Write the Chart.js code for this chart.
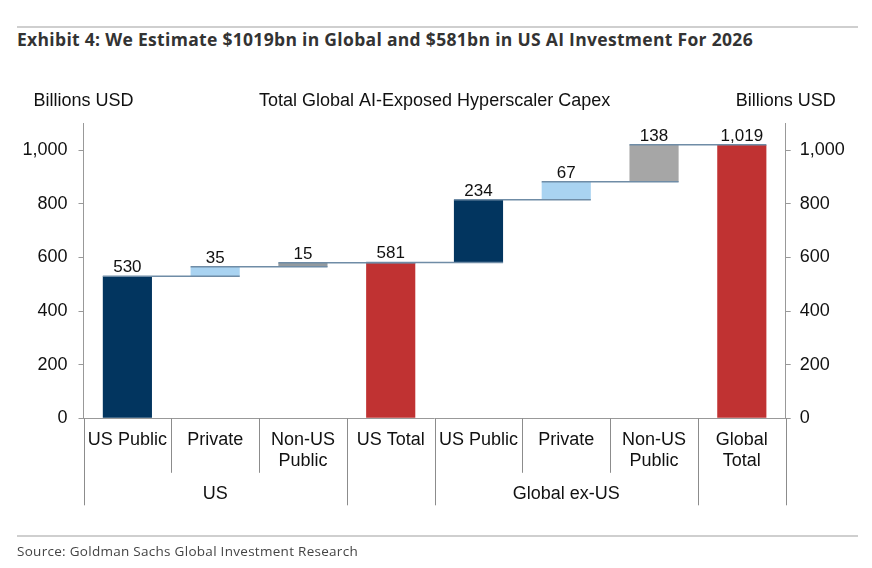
<!DOCTYPE html>
<html>
<head>
<meta charset="utf-8">
<script src="https://cdn.jsdelivr.net/npm/chart.js@4.4.1/dist/chart.umd.min.js"></script>
<style>
  html, body { margin: 0; padding: 0; background: #fff; }
  #wrap { position: relative; width: 872px; height: 568px; overflow: hidden; }
  #chart { position: absolute; left: 0; top: 0; }
  .rule { position: absolute; left: 17px; width: 841px; height: 2px; background: #cfcfcf; }
  #title { position: absolute; left: 17px; top: 28px; font: 700 17.5px "Open Sans", sans-serif; color: #333; line-height: 22px; white-space: nowrap; }
  #source { position: absolute; left: 17px; top: 542px; font: 13.5px "Open Sans", sans-serif; color: #444; line-height: 18px; white-space: nowrap; }
</style>
</head>
<body>
<div id="wrap">
  <div class="rule" style="top:26px"></div>
  <div id="title">Exhibit 4: We Estimate $1019bn in Global and $581bn in US AI Investment For 2026</div>
  <canvas id="chart" width="872" height="568"></canvas>
  <div class="rule" style="top:535px"></div>
  <div id="source">Source: Goldman Sachs Global Investment Research</div>
</div>
<script>
// chart data
const categories = [['US Public'], ['Private'], ['Non-US', 'Public'], ['US Total'],
                    ['US Public'], ['Private'], ['Non-US', 'Public'], ['Global', 'Total']];
const groups = ['US', 'US', 'US', '', 'Global ex-US', 'Global ex-US', 'Global ex-US', ''];
const values = [530, 35, 15, 581, 234, 67, 138, 1019];
const isTotal = [false, false, false, true, false, false, false, true];
const yTicks = [0, 200, 400, 600, 800, 1000];

const barColors = ['#02355f', '#a9d3f1', '#939a9f', '#c03232', '#02355f', '#a9d3f1', '#a6a6a6', '#c03232'];

// squeeze/stretch the header and source lines to the widths in the exhibit
function fitWidth(id, target) {
    const el = document.getElementById(id);
    const w = el.getBoundingClientRect().width;
    const n = el.textContent.length;
    el.style.letterSpacing = ((target - w) / n) + 'px';
}
fitWidth('title', 736);
fitWidth('source', 341);

// build floating bars [start, end] from running total
const ranges = [];
const levels = [];
let running = 0;
values.forEach((v, i) => {
    if (isTotal[i]) {
        ranges.push([0, v]);
        running = v;
    } else {
        ranges.push([running, running + v]);
        running += v;
    }
    levels.push(running);
});

Chart.defaults.font.family = '"Liberation Sans", Arial, sans-serif';
Chart.defaults.font.size = 18;
Chart.defaults.color = '#111';

const waterfallExtras = {
    id: 'waterfallExtras',
    afterDatasetsDraw(chart) {
        const ctx = chart.ctx;
        const meta = chart.getDatasetMeta(0);
        const y = chart.scales.y;

        // connector lines: from bar i left edge to bar i+1 right edge
        ctx.save();
        ctx.strokeStyle = '#6f8ca6';
        ctx.lineWidth = 1.5;
        for (let i = 0; i < meta.data.length - 1; i++) {
            const a = meta.data[i], b = meta.data[i + 1];
            const yy = y.getPixelForValue(levels[i]);
            ctx.beginPath();
            ctx.moveTo(a.x - a.width / 2, yy);
            ctx.lineTo(b.x + b.width / 2, yy);
            ctx.stroke();
        }

        // value labels
        ctx.fillStyle = '#111';
        ctx.font = '17px "Liberation Sans", Arial, sans-serif';
        ctx.textAlign = 'center';
        ctx.textBaseline = 'alphabetic';
        meta.data.forEach((bar, i) => {
            const top = Math.min(bar.y, bar.base);
            ctx.fillText(values[i].toLocaleString('en-US'), bar.x, top - 4);
        });
        ctx.restore();
    },
    afterDraw(chart) {
        const ctx = chart.ctx;
        const x = chart.scales.x;
        const area = chart.chartArea;
        const n = categories.length;
        const edges = [];
        for (let i = 0; i <= n; i++) {
            if (i === 0) edges.push(area.left);
            else if (i === n) edges.push(area.right);
            else edges.push((x.getPixelForValue(i - 1) + x.getPixelForValue(i)) / 2);
        }

        // category dividers under the axis
        ctx.save();
        ctx.strokeStyle = '#8c8c8c';
        ctx.lineWidth = 1;
        edges.forEach((ex, i) => {
            const outer = i === 0 || i === n || groups[i - 1] !== groups[i] || groups[i] === '';
            const len = outer ? 87 : 54.5;
            ctx.beginPath();
            ctx.moveTo(Math.round(ex) + 0.5, area.bottom);
            ctx.lineTo(Math.round(ex) + 0.5, area.bottom + len);
            ctx.stroke();
        });

        // group labels
        ctx.fillStyle = '#111';
        ctx.font = '18px "Liberation Sans", Arial, sans-serif';
        ctx.textAlign = 'center';
        ctx.textBaseline = 'middle';
        let start = 0;
        for (let i = 1; i <= n; i++) {
            if (i === n || groups[i] !== groups[start]) {
                if (groups[start]) {
                    ctx.fillText(groups[start], (edges[start] + edges[i]) / 2, area.bottom + 76);
                }
                start = i;
            }
        }

        // axis titles and chart title
        const ty = area.top - 22;
        ctx.fillText('Billions USD', area.left, ty);
        ctx.fillText('Billions USD', area.right, ty);
        ctx.fillText('Total Global AI-Exposed Hyperscaler Capex', (area.left + area.right) / 2, ty);
        ctx.restore();
    }
};

const axisGrey = '#999';

new Chart(document.getElementById('chart'), {
    type: 'bar',
    data: {
        labels: categories,
        datasets: [{
            data: ranges,
            backgroundColor: barColors,
            borderWidth: 0,
            barPercentage: 0.56,
            categoryPercentage: 1.0
        }]
    },
    options: {
        responsive: false,
        animation: false,
        layout: { padding: { top: 123.3, left: 0, right: 0, bottom: 0 } },
        plugins: { legend: { display: false }, tooltip: { enabled: false } },
        scales: {
            x: {
                grid: { display: false, drawTicks: false },
                border: { display: true, color: axisGrey, width: 1 },
                ticks: { padding: 11, maxRotation: 0, autoSkip: false, font: { size: 18, lineHeight: 1.17 }, color: '#111' },
                afterFit(scale) { scale.height = 568 - 418.3; }
            },
            y: {
                position: 'left',
                min: 0,
                max: 1100,
                afterBuildTicks(scale) { scale.ticks = yTicks.map(v => ({ value: v })); },
                grid: { drawOnChartArea: false, tickLength: 5, color: axisGrey },
                border: { display: true, color: axisGrey, width: 1 },
                ticks: { padding: 11, callback: v => v.toLocaleString('en-US'), color: '#111' },
                afterFit(scale) { scale.width = 83.5; }
            },
            y2: {
                position: 'right',
                min: 0,
                max: 1100,
                afterBuildTicks(scale) { scale.ticks = yTicks.map(v => ({ value: v })); },
                grid: { drawOnChartArea: false, tickLength: 5, color: axisGrey },
                border: { display: true, color: axisGrey, width: 1 },
                ticks: { padding: 9, callback: v => v.toLocaleString('en-US'), color: '#111' },
                afterFit(scale) { scale.width = 872 - 785.7; }
            }
        }
    },
    plugins: [waterfallExtras]
});
</script>
</body>
</html>
